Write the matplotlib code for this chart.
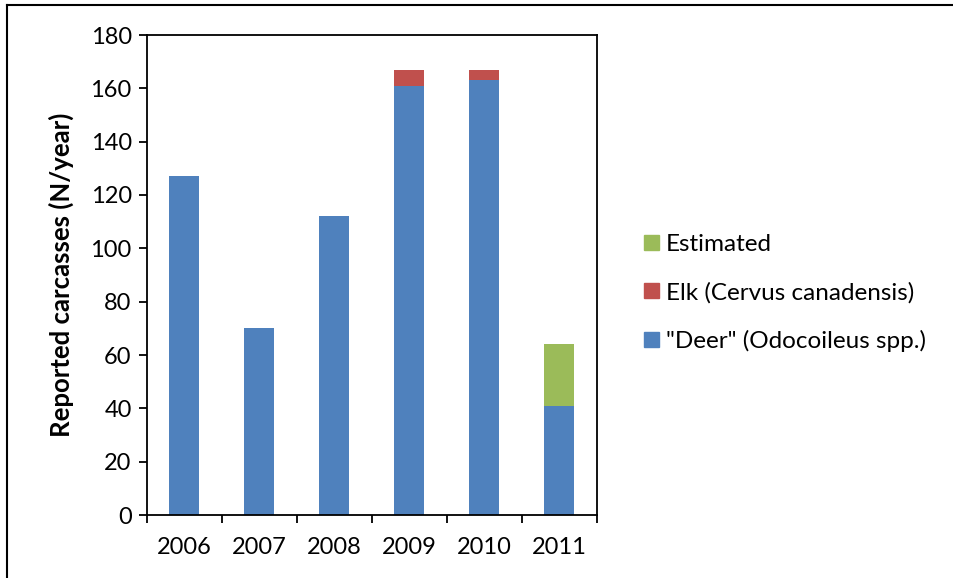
import matplotlib
matplotlib.use("Agg")
import matplotlib.pyplot as plt
from matplotlib.lines import Line2D
from matplotlib.patches import Patch

years = ["2006", "2007", "2008", "2009", "2010", "2011"]
deer = [127, 70, 112, 161, 163, 41]
elk = [0, 0, 0, 6, 4, 0]
estimated = [0, 0, 0, 0, 0, 23]
yticks = [0, 20, 40, 60, 80, 100, 120, 140, 160, 180]

c_deer = "#4F81BD"
c_elk = "#C0504D"
c_est = "#9BBB59"

plt.rcParams['font.family'] = ['Lato', 'DejaVu Sans']

W, H = 954, 578
fig = plt.figure(figsize=(W / 100, H / 100), dpi=100)
ax = fig.add_axes([147 / W, 1 - 515 / H, (597 - 147) / W, (515 - 35) / H])

x = list(range(len(years)))
bw = 0.4
ax.bar(x, deer, width=bw, color=c_deer, zorder=2)
b2 = [d for d in deer]
ax.bar(x, elk, width=bw, bottom=b2, color=c_elk, zorder=2)
b3 = [d + e for d, e in zip(deer, elk)]
ax.bar(x, estimated, width=bw, bottom=b3, color=c_est, zorder=2)

ax.set_xlim(-0.5, len(years) - 0.5)
ax.set_ylim(0, 180)
ax.set_yticks(yticks)
ax.set_yticklabels([str(v) for v in yticks], fontsize=17)
ax.set_xticks(x)
ax.set_xticklabels(years, fontsize=17)
ax.set_xticks([i - 0.5 for i in range(len(years) + 1)], minor=True)
ax.tick_params(axis='x', which='major', length=0, pad=16)
ax.tick_params(axis='x', which='minor', length=6, width=1.3, direction='out')
ax.tick_params(axis='y', length=6, width=1.3, direction='out', pad=5)
for s in ax.spines.values():
    s.set_linewidth(1.3)
ax.set_ylabel("Reported carcasses (N/year)", fontsize=18.5, fontweight='bold', labelpad=12)

handles = [Patch(color=c_est, label="Estimated"),
           Patch(color=c_elk, label="Elk (Cervus canadensis)"),
           Patch(color=c_deer, label='"Deer" (Odocoileus spp.)')]
fig.legend(handles=handles, loc='center left', bbox_to_anchor=(632 / W, 1 - 293 / H),
           frameon=False, fontsize=17.5, handlelength=0.6, handleheight=0.6,
           handletextpad=0.3, labelspacing=1.1, borderpad=0)

fig.add_artist(Line2D([7 / W, 1], [1 - 5 / H, 1 - 5 / H], transform=fig.transFigure, color='black', lw=1.5))
fig.add_artist(Line2D([7 / W, 7 / W], [0, 1 - 5 / H], transform=fig.transFigure, color='black', lw=1.5))

fig.savefig("out.png", dpi=100)
